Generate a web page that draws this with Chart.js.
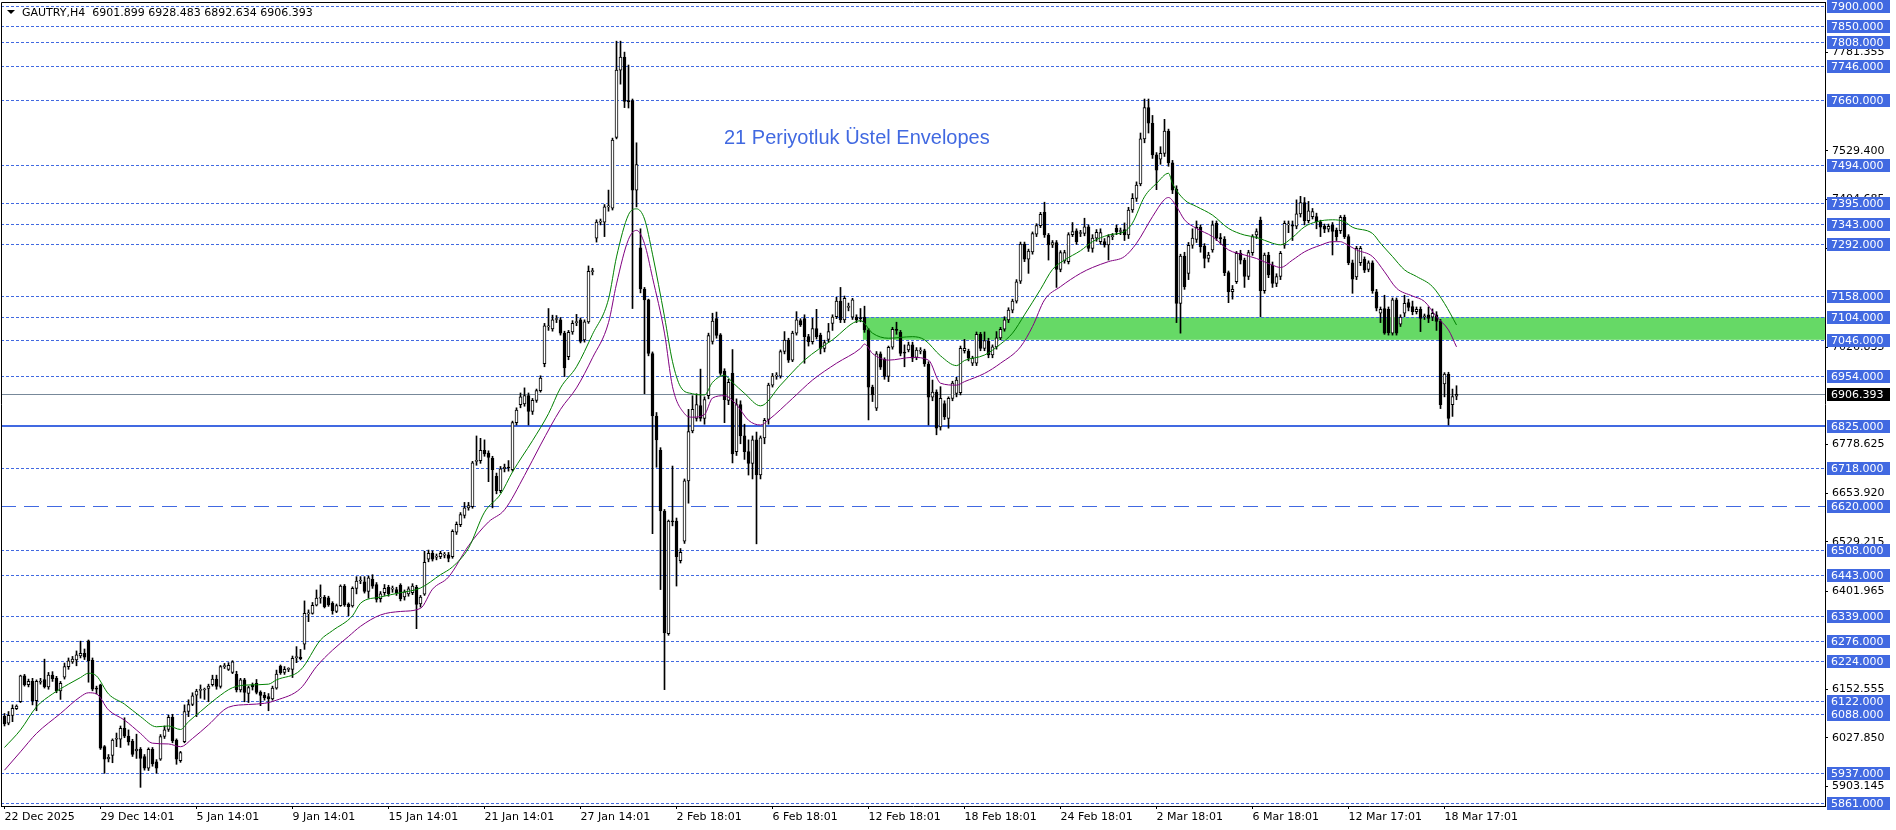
<!DOCTYPE html>
<html>
<head>
<meta charset="utf-8">
<title>GAUTRY,H4</title>
<script src="https://cdn.jsdelivr.net/npm/chart.js@4.4.1/dist/chart.umd.min.js"></script>
<style>
  html, body { margin: 0; padding: 0; background: #ffffff; overflow: hidden; }
  canvas { display: block; }
</style>
</head>
<body>
<canvas id="grafico" width="1896" height="830"></canvas>
<script>
// Velas H4 de GAUTRY: [apertura, maximo, minimo, cierre]
const velas = [
  [6083,6090,6058,6063],[6065,6095,6061,6085],[6085,6112,6069,6103],[6102,6112,6100,6109],[6120,6188,6118,6186],
  [6186,6190,6160,6163],[6164,6178,6158,6172],[6172,6180,6112,6123],[6123,6176,6097,6172],[6170,6180,6165,6172],
  [6177,6229,6155,6158],[6158,6195,6152,6188],[6188,6197,6172,6179],[6180,6185,6143,6148],[6148,6172,6126,6167],
  [6183,6219,6178,6210],[6210,6232,6203,6225],[6222,6236,6218,6229],[6227,6250,6212,6240],[6237,6275,6232,6244],
  [6244,6255,6228,6234],[6276,6278,6170,6225],[6226,6232,6148,6152],[6155,6160,6140,6152],[6163,6165,5998,6001],
  [6005,6008,5937,5973],[5974,5985,5966,5978],[5983,6025,5964,6022],[6024,6040,6005,6024],[6024,6058,6003,6052],
  [6052,6079,6028,6032],[6032,6048,6009,6017],[6019,6024,5980,5985],[5994,6037,5975,5999],[5999,6003,5901,5975],
  [5980,5985,5945,5950],[5950,6002,5944,5998],[5998,6003,5955,5961],[5966,5972,5937,5950],[5973,6036,5970,6031],
  [6031,6058,6026,6048],[6049,6086,6044,6080],[6080,6088,6015,6020],[6022,6025,5960,5973],[5969,5993,5965,5990],
  [6018,6112,6015,6095],[6095,6125,6082,6113],[6113,6143,6110,6135],[6137,6152,6082,6147],[6149,6163,6129,6150],
  [6150,6155,6126,6152],[6154,6165,6120,6160],[6164,6188,6160,6178],[6178,6188,6152,6159],[6159,6213,6155,6210],
  [6210,6218,6205,6212],[6203,6220,6200,6213],[6195,6225,6192,6222],[6190,6198,6145,6150],[6150,6180,6145,6176],
  [6176,6180,6120,6144],[6141,6160,6118,6156],[6163,6168,6150,6158],[6167,6177,6140,6144],[6145,6148,6110,6136],
  [6137,6144,6124,6130],[6133,6141,6097,6127],[6127,6160,6124,6155],[6155,6201,6152,6191],[6211,6214,6190,6194],
  [6195,6210,6190,6203],[6203,6207,6197,6204],[6203,6237,6182,6231],[6233,6261,6220,6233],[6234,6254,6227,6230],
  [6267,6378,6254,6346],[6345,6355,6325,6347],[6346,6374,6344,6367],[6367,6406,6365,6385],[6385,6419,6372,6387],
  [6387,6392,6360,6363],[6386,6390,6364,6368],[6372,6376,6344,6353],[6351,6370,6348,6366],[6366,6419,6364,6416],
  [6416,6420,6364,6368],[6370,6373,6340,6363],[6365,6414,6362,6410],[6410,6440,6396,6429],[6429,6440,6422,6430],
  [6427,6440,6398,6402],[6402,6442,6385,6437],[6433,6445,6410,6416],[6420,6425,6375,6382],[6384,6402,6375,6396],
  [6399,6420,6392,6410],[6413,6418,6390,6396],[6408,6416,6400,6410],[6407,6413,6392,6399],[6418,6422,6378,6384],
  [6388,6406,6380,6401],[6396,6414,6390,6409],[6399,6422,6394,6416],[6413,6418,6307,6369],[6370,6392,6362,6388],
  [6395,6505,6392,6477],[6485,6508,6478,6500],[6500,6506,6480,6485],[6490,6498,6483,6492],[6491,6505,6486,6500],
  [6495,6502,6488,6496],[6496,6502,6478,6487],[6491,6560,6487,6556],[6554,6580,6548,6574],[6573,6604,6568,6599],
  [6597,6630,6590,6616],[6616,6630,6610,6622],[6619,6735,6615,6731],[6735,6800,6725,6737],[6737,6794,6730,6763],
  [6763,6790,6748,6754],[6756,6762,6683,6745],[6743,6748,6616,6714],[6697,6705,6652,6660],[6660,6722,6655,6716],
  [6716,6728,6708,6720],[6720,6737,6710,6718],[6714,6838,6710,6834],[6834,6872,6828,6866],[6880,6910,6872,6900],
  [6882,6923,6876,6903],[6903,6910,6828,6863],[6863,6896,6855,6891],[6891,6920,6886,6916],[6916,6954,6912,6948],
  [6985,7088,6977,7082],[7079,7126,7070,7081],[7074,7109,7068,7097],[7098,7108,7090,7100],[7097,7103,7058,7063],
  [7063,7068,6952,6974],[7003,7070,6995,7065],[7066,7095,7060,7088],[7090,7111,7082,7092],[7097,7102,7038,7042],
  [7046,7097,7040,7092],[7092,7235,7088,7221],[7220,7229,7212,7223],[7306,7353,7296,7347],[7347,7355,7340,7349],
  [7347,7392,7310,7386],[7386,7429,7375,7388],[7383,7562,7378,7557],[7564,7810,7560,7736],[7736,7810,7700,7769],
  [7769,7782,7640,7656],[7658,7749,7639,7655],[7658,7662,7126,7429],[7429,7550,7386,7494],[7281,7330,7166,7176],
  [7176,7180,6908,7148],[7148,7150,7005,7011],[7011,7015,6550,6851],[6851,6860,6720,6790],[6763,6770,6407,6608],
  [6608,6612,6151,6296],[6294,6585,6290,6582],[6582,6723,6570,6580],[6582,6590,6416,6491],[6481,6512,6475,6502],
  [6531,6690,6525,6685],[6685,6868,6628,6811],[6813,6903,6808,6868],[6845,6908,6838,6880],[6878,6971,6838,6845],
  [6845,6900,6830,6893],[6903,7063,6895,7057],[7042,7114,7035,7094],[7100,7117,7050,7057],[7059,7062,6955,6960],
  [6966,6972,6834,6893],[6891,6945,6880,6937],[6960,7021,6731,6754],[6760,6895,6750,6880],[6880,6890,6780,6800],
  [6800,6830,6740,6760],[6760,6790,6700,6730],[6730,6800,6690,6790],[6790,6810,6524,6700],[6700,6800,6690,6795],
  [6795,6845,6780,6840],[6842,6935,6830,6930],[6930,6960,6925,6953],[6953,6962,6945,6955],[6953,7020,6948,7016],
  [7016,7067,7010,7045],[7045,7050,6988,6994],[6994,7068,6990,7063],[7063,7118,7058,7097],[7095,7100,7080,7084],
  [7100,7110,6986,7054],[7054,7060,7030,7041],[7041,7101,7035,7075],[7075,7124,7048,7054],[7058,7063,7010,7024],
  [7024,7045,7015,7039],[7047,7088,7040,7067],[7088,7110,7070,7104],[7105,7155,7100,7145],[7145,7180,7090,7097],
  [7097,7158,7090,7152],[7129,7140,7120,7131],[7104,7152,7098,7148],[7104,7110,7090,7097],[7101,7126,7092,7100],
  [7104,7132,7065,7071],[7071,7075,6841,6925],[6925,6930,6888,6905],[6871,7016,6865,7010],[7010,7015,6970,6976],
  [6996,7000,6945,6952],[6952,7030,6939,7027],[7027,7078,7022,7073],[7071,7091,7060,7070],[7065,7070,7005,7011],
  [7013,7033,6977,7012],[7020,7040,7015,7033],[7033,7040,6990,6999],[7001,7026,6995,7020],[7017,7026,7010,7018],
  [7018,7022,6978,6984],[6984,6990,6828,6899],[6899,6943,6890,6912],[6912,6918,6803,6820],[6823,6926,6815,6896],
  [6883,6890,6842,6849],[6845,6900,6820,6896],[6896,6940,6890,6935],[6909,6950,6900,6943],[6911,7030,6905,7024],
  [7018,7047,7012,7024],[7017,7022,6992,6999],[6986,7004,6980,6999],[6986,7066,6980,7060],[7060,7065,7018,7024],
  [7024,7066,7018,7044],[7043,7050,7000,7007],[7007,7033,7000,7028],[7028,7067,7022,7051],[7051,7078,7046,7073],
  [7073,7105,7068,7097],[7097,7128,7090,7122],[7122,7150,7115,7145],[7145,7200,7140,7194],[7196,7296,7190,7291],
  [7291,7296,7246,7252],[7252,7278,7216,7273],[7271,7322,7265,7318],[7316,7343,7310,7338],[7338,7372,7333,7367],
  [7372,7398,7308,7314],[7314,7318,7250,7289],[7289,7300,7282,7295],[7295,7300,7180,7226],[7226,7274,7220,7269],
  [7248,7275,7242,7269],[7246,7320,7240,7315],[7315,7346,7310,7323],[7325,7330,7290,7297],[7318,7326,7310,7319],
  [7318,7357,7312,7335],[7335,7340,7272,7280],[7280,7315,7270,7306],[7306,7328,7298,7321],[7297,7330,7290,7320],
  [7297,7305,7283,7289],[7289,7315,7250,7310],[7310,7318,7302,7312],[7331,7340,7315,7322],[7323,7332,7315,7325],
  [7328,7345,7300,7314],[7314,7385,7305,7378],[7378,7420,7372,7408],[7408,7450,7400,7442],[7445,7575,7440,7560],
  [7560,7662,7550,7640],[7640,7662,7575,7600],[7600,7620,7510,7519],[7519,7525,7430,7480],[7508,7540,7495,7523],
  [7523,7610,7515,7580],[7580,7585,7490,7499],[7499,7505,7420,7429],[7431,7440,7090,7139],[7139,7265,7063,7260],
  [7260,7270,7175,7182],[7216,7295,7200,7288],[7288,7330,7280,7306],[7303,7350,7295,7334],[7334,7340,7270,7284],
  [7286,7292,7230,7254],[7254,7270,7245,7263],[7276,7350,7270,7340],[7344,7350,7300,7306],[7306,7318,7290,7305],
  [7303,7310,7210,7218],[7218,7222,7141,7169],[7169,7185,7150,7175],[7195,7272,7190,7267],[7267,7275,7240,7250],
  [7250,7255,7180,7208],[7208,7275,7200,7269],[7269,7315,7262,7310],[7314,7330,7305,7323],[7352,7360,7105,7172],
  [7172,7268,7165,7263],[7263,7270,7205,7212],[7237,7245,7180,7190],[7190,7215,7182,7208],[7208,7272,7200,7267],
  [7288,7350,7280,7344],[7340,7350,7320,7342],[7338,7350,7300,7337],[7337,7404,7330,7368],[7368,7413,7360,7397],
  [7397,7410,7340,7351],[7351,7400,7345,7376],[7361,7382,7355,7374],[7361,7370,7330,7348],[7348,7352,7310,7334],
  [7337,7342,7320,7329],[7329,7342,7322,7336],[7340,7346,7263,7323],[7327,7332,7300,7310],[7325,7364,7318,7359],
  [7359,7365,7305,7310],[7310,7315,7238,7243],[7243,7250,7165,7201],[7207,7285,7200,7280],[7243,7285,7236,7280],
  [7252,7258,7218,7224],[7226,7248,7220,7243],[7243,7248,7165,7172],[7169,7175,7120,7127],[7114,7130,7090,7124],
  [7126,7160,7060,7063],[7124,7130,7058,7064],[7063,7153,7058,7148],[7148,7153,7058,7063],[7086,7110,7080,7104],
  [7114,7160,7105,7139],[7141,7150,7120,7129],[7131,7145,7110,7118],[7118,7130,7112,7124],[7124,7130,7067,7101],
  [7105,7112,7098,7106],[7110,7130,7090,7101],[7104,7125,7095,7114],[7110,7118,7070,7093],[7093,7098,6870,6880],
  [6933,6962,6900,6958],[6958,6963,6828,6845],[6880,6920,6850,6901],[6901.899,6928.483,6892.634,6906.393]
];

// Envelopes 21 periodos (exponencial): banda superior (verde) e inferior (morada)
const envSupX = [0,4,8,12,16,19,21,23,26,30,34,38,41,44,46,49,53,57,61,66,68,74,79,82,87,89,94,99,104,109,112,116,120,124,127,132,136,139,143,147,151,153,156,158,160,162,165,167,169,172,175,177,180,182,185,189,194,200,207,214,217,221,227,230,234,238,240,245,249,252,255,259,262,265,269,272,276,280,282,285,288,291,292,295,298,302,306,310,313,317,319,322,325,328,332,335,337,342,344,347,350,353,357,360,363];
const envSupY = [6003,6048,6107,6140,6165,6182,6193,6186,6140,6114,6082,6056,6058,6049,6069,6095,6129,6156,6163,6165,6176,6201,6278,6302,6340,6372,6388,6399,6411,6445,6465,6513,6605,6651,6708,6788,6857,6923,6977,7060,7150,7258,7366,7381,7355,7265,7105,6990,6926,6908,6905,6937,6955,6937,6909,6877,6930,6994,7046,7095,7063,7050,7054,7046,7005,6980,6993,7007,7035,7063,7110,7175,7226,7250,7274,7297,7314,7323,7345,7412,7446,7472,7446,7404,7387,7365,7331,7314,7308,7293,7289,7308,7335,7348,7353,7348,7334,7318,7293,7259,7225,7208,7182,7139,7084];
const envInfX = [0,4,8,14,19,21,23,26,30,34,37,41,44,47,51,56,61,65,68,74,78,82,86,89,94,99,104,107,111,116,121,125,130,134,139,143,147,151,153,156,158,160,162,165,167,170,172,175,177,180,183,186,189,191,197,202,208,214,215,217,221,227,231,234,238,240,245,249,254,257,260,264,269,272,276,280,283,287,290,291,293,295,298,302,306,310,313,317,319,322,325,329,332,334,335,338,342,345,348,352,355,358,361,363];
const envInfY = [5945,5992,6039,6090,6133,6143,6140,6099,6073,6039,6014,6012,6005,6026,6061,6106,6113,6116,6124,6154,6210,6252,6287,6313,6342,6351,6359,6408,6439,6519,6580,6611,6699,6777,6868,6923,7000,7090,7189,7303,7326,7292,7205,7063,6926,6857,6848,6855,6897,6903,6880,6840,6828,6841,6896,6943,6986,7024,7035,7011,6994,7001,6994,6935,6930,6939,6960,6986,7028,7080,7148,7182,7216,7231,7246,7259,7293,7361,7405,7410,7387,7353,7331,7310,7276,7263,7254,7237,7231,7250,7271,7288,7297,7297,7293,7276,7259,7220,7178,7158,7144,7105,7071,7028];

// Eje de tiempo: una etiqueta cada 24 velas
const etiquetasTiempo = ['22 Dec 2025','29 Dec 14:01','5 Jan 14:01','9 Jan 14:01','15 Jan 14:01','21 Jan 14:01','27 Jan 14:01','2 Feb 18:01','6 Feb 18:01','12 Feb 18:01','18 Feb 18:01','24 Feb 18:01','2 Mar 18:01','6 Mar 18:01','12 Mar 17:01','18 Mar 17:01'];
const pasoEtiquetas = 24;

// Eje de precios (etiquetas negras del terminal)
const ticksPrecio = [7781.355, 7529.400, 7404.685, 7279.970, 7026.835, 6778.625, 6653.920, 6529.215, 6401.965, 6152.555, 6027.850, 5903.145];

// Niveles horizontales dibujados
const nivelesPunteados = [7900,7850,7808,7746,7660,7494,7395,7343,7292,7158,7104,7046,6954,6718,6508,6443,6339,6276,6224,6122,6088,5937,5861];
const nivelSolido = 6825;
const nivelGuiones = 6620;
const precioActual = 6906.393;
const zonaVerde = [7046, 7104];
const zonaInicio = 214.6; // vela donde empieza el rectangulo

const titulo = 'GAUTRY,H4  6901.899 6928.483 6892.634 6906.393';
const textoIndicador = '21 Periyotluk Üstel Envelopes';

const AZUL = '#4169e1';
const FUENTE = '"DejaVu Sans", sans-serif';

// Plugin para niveles, zona, cajas de precio y textos
const marcasMT4 = {
  id: 'marcasMT4',
  beforeDatasetsDraw(chart) {
    const { ctx, chartArea: a, scales: { x, y } } = chart;
    ctx.save();
    ctx.beginPath();
    ctx.rect(a.left, a.top, a.right - a.left, a.bottom - a.top);
    ctx.clip();

    // rectangulo verde
    const yArriba = y.getPixelForValue(zonaVerde[1]);
    const yAbajo = y.getPixelForValue(zonaVerde[0]);
    const xIni = x.getPixelForValue(zonaInicio);
    ctx.fillStyle = '#66d966';
    ctx.fillRect(xIni, yArriba, a.right - xIni, yAbajo - yArriba);

    const linea = (v, color, ancho, guion) => {
      const py = Math.round(y.getPixelForValue(v)) + (ancho % 2 ? 0.5 : 0);
      ctx.strokeStyle = color;
      ctx.lineWidth = ancho;
      ctx.setLineDash(guion);
      ctx.beginPath();
      ctx.moveTo(a.left, py);
      ctx.lineTo(a.right, py);
      ctx.stroke();
    };
    linea(precioActual, '#778899', 1, []);
    nivelesPunteados.forEach(v => linea(v, AZUL, 1, [3, 2]));
    linea(nivelGuiones, AZUL, 1, [15, 8]);
    linea(nivelSolido, AZUL, 2, []);
    ctx.restore();
  },
  afterDraw(chart) {
    const { ctx, chartArea: a, scales: { y } } = chart;
    ctx.save();

    // marco izquierdo y superior
    ctx.strokeStyle = '#000';
    ctx.lineWidth = 1;
    ctx.setLineDash([]);
    ctx.beginPath();
    ctx.moveTo(a.left + 0.5, a.bottom);
    ctx.lineTo(a.left + 0.5, a.top + 0.5);
    ctx.lineTo(a.right, a.top + 0.5);
    ctx.stroke();

    // cajas de precio a la derecha
    ctx.font = '11px ' + FUENTE;
    ctx.textBaseline = 'middle';
    ctx.textAlign = 'left';
    const caja = (v, fondo, texto) => {
      const py = Math.round(y.getPixelForValue(v));
      ctx.fillStyle = fondo;
      ctx.fillRect(a.right + 2, py - 6, 63, 13);
      ctx.fillStyle = '#ffffff';
      ctx.fillText(texto, a.right + 6, py + 1);
    };
    nivelesPunteados.concat([nivelSolido, nivelGuiones]).forEach(v => caja(v, AZUL, v.toFixed(3)));
    caja(precioActual, '#000000', precioActual.toFixed(3));

    // titulo del simbolo
    ctx.fillStyle = '#000';
    ctx.beginPath();
    ctx.moveTo(7, 10); ctx.lineTo(15, 10); ctx.lineTo(11, 14);
    ctx.closePath();
    ctx.fill();
    ctx.font = '11px ' + FUENTE;
    ctx.fillText(titulo, 22, 13);

    // texto del indicador
    ctx.fillStyle = AZUL;
    ctx.font = '20px "Liberation Sans", Arial, sans-serif';
    ctx.fillText(textoIndicador, 724, 138);
    ctx.restore();
  }
};

function inicializarGrafico() {
  const ctx = document.getElementById('grafico');

  const cuerpos = velas.map((v, i) => ({ x: i, y: [v[0], v[3]] }));
  const mechas = velas.map((v, i) => ({ x: i, y: [v[2], v[1]] }));
  const envSup = envSupX.map((xv, i) => ({ x: xv, y: envSupY[i] }));
  const envInf = envInfX.map((xv, i) => ({ x: xv, y: envInfY[i] }));
  const posTicks = etiquetasTiempo.map((_, i) => i * pasoEtiquetas);

  new Chart(ctx, {
    type: 'bar',
    data: {
      datasets: [
        {
          type: 'line', data: envSup, borderColor: '#008000', borderWidth: 1,
          pointRadius: 0, cubicInterpolationMode: 'monotone', order: 0
        },
        {
          type: 'line', data: envInf, borderColor: '#800080', borderWidth: 1,
          pointRadius: 0, cubicInterpolationMode: 'monotone', order: 0
        },
        {
          data: cuerpos,
          backgroundColor: c => { const v = velas[c.dataIndex]; return v[3] >= v[0] ? '#ffffff' : '#000000'; },
          borderColor: '#000000', borderWidth: 1, borderSkipped: false,
          barThickness: 3, minBarLength: 1, grouped: false, order: 1
        },
        {
          data: mechas, backgroundColor: '#000000', borderWidth: 0,
          barThickness: 1, grouped: false, order: 2
        }
      ]
    },
    options: {
      responsive: false,
      animation: false,
      devicePixelRatio: 1,
      layout: { padding: { left: 1, top: 2, right: 0, bottom: 0 } },
      plugins: { legend: { display: false }, tooltip: { enabled: false } },
      scales: {
        x: {
          type: 'linear', min: -0.875, max: 455.125, offset: false,
          afterBuildTicks: s => { s.ticks = posTicks.map(v => ({ value: v })); },
          afterFit: s => { s.height = 24; s.paddingLeft = 0; s.paddingRight = 0; },
          grid: { drawOnChartArea: false, offset: false, tickLength: 3, color: '#000' },
          border: { display: true, color: '#000' },
          ticks: {
            autoSkip: false, maxRotation: 0, align: 'start', padding: 2,
            color: '#000', font: { family: FUENTE, size: 11 },
            callback: v => etiquetasTiempo[posTicks.indexOf(v)]
          }
        },
        y: {
          type: 'linear', position: 'right', min: 5853.3, max: 7910.2,
          afterBuildTicks: s => { s.ticks = ticksPrecio.map(v => ({ value: v })); },
          afterFit: s => { s.width = 71; s.paddingTop = 0; s.paddingBottom = 0; },
          grid: { drawOnChartArea: false, tickLength: 3, color: '#000' },
          border: { display: true, color: '#000' },
          ticks: {
            autoSkip: false, padding: 4, crossAlign: 'near',
            color: '#000', font: { family: FUENTE, size: 11 },
            callback: v => Number(v).toFixed(3)
          }
        }
      }
    },
    plugins: [marcasMT4]
  });
}

inicializarGrafico();
</script>
</body>
</html>
